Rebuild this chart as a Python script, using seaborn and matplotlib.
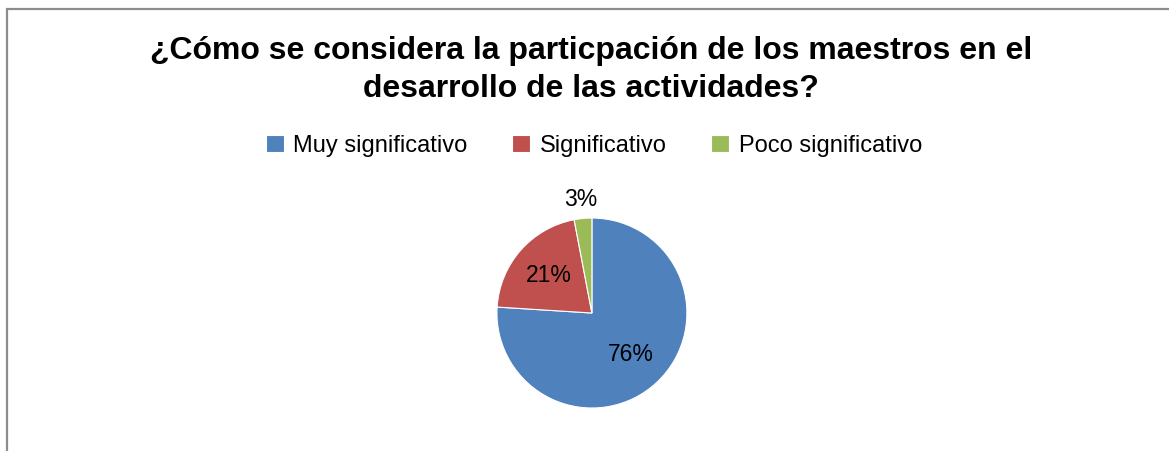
import matplotlib
matplotlib.use("Agg")
import matplotlib.pyplot as plt
import seaborn as sns
import numpy as np
from matplotlib.patches import Rectangle

# data
categories = ["Muy significativo", "Significativo", "Poco significativo"]
percentages = [76, 21, 3]
colors = ["#4F81BD", "#C0504D", "#9BBB59"]
title = "¿Cómo se considera la particpación de los maestros en el\ndesarrollo de las actividades?"

sns.set_theme(style="white")
plt.rcParams["font.family"] = ["Liberation Sans", "DejaVu Sans"]
plt.rcParams["text.color"] = "black"

fig = plt.figure(figsize=(11.69, 4.51), dpi=100, facecolor="white")

# gray chart border (runs off the right and bottom edges)
fig.patches.append(Rectangle((7 / 1169, -0.05), 1.2, 1 - 9 / 451 + 0.05,
                             transform=fig.transFigure, fill=False,
                             edgecolor="#8c8c8c", linewidth=1.6))

ax = fig.add_axes([0.4251, 0.0953, 0.1625, 0.4213])
wedges, texts, autotexts = ax.pie(
    percentages, colors=colors, startangle=90, counterclock=False,
    autopct="%1.0f%%", pctdistance=0.6,
    wedgeprops=dict(edgecolor="white", linewidth=0.8),
    textprops=dict(fontsize=16.5, color="black"))
ax.set_xlim(-1, 1)
ax.set_ylim(-1, 1)

# the small slice gets its label outside the pie
w = wedges[2]
ang = np.deg2rad((w.theta1 + w.theta2) / 2)
autotexts[2].set_position((1.22 * np.cos(ang), 1.2 * np.sin(ang)))

fig.text(0.5055, 1 - 70 / 451, title, ha="center", va="center",
         fontsize=23, fontweight="bold", linespacing=1.32, color="black")

fig.legend(wedges, categories, loc="center", bbox_to_anchor=(594 / 1169, 1 - 146 / 451),
           ncol=3, frameon=False, fontsize=17, handlelength=0.75, handleheight=0.75,
           handletextpad=0.4, columnspacing=1.9, labelcolor="black")

fig.savefig("out.png", dpi=100)
